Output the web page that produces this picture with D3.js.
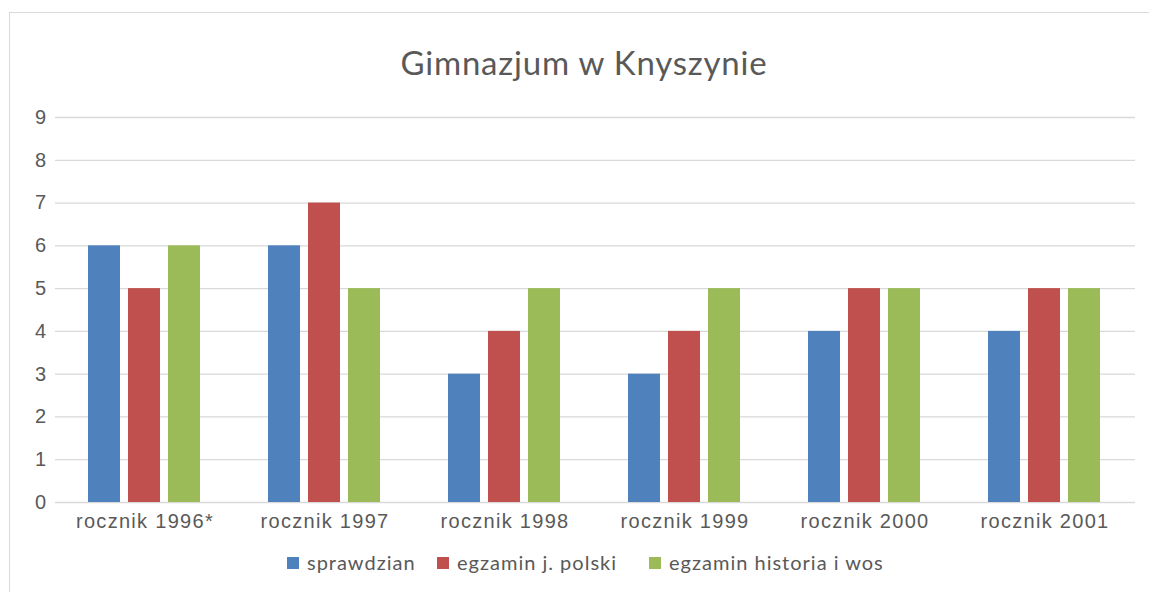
<!DOCTYPE html>
<html>
<head>
<meta charset="utf-8">
<script src="https://cdn.jsdelivr.net/npm/d3@7"></script>
<style>
  body { margin: 0; background: #fff; }
  svg { display: block; font-family: Lato, "Open Sans", sans-serif; }
</style>
</head>
<body>
<div id="chart"></div>
<script>
// data
const categories = ["rocznik 1996*", "rocznik 1997", "rocznik 1998", "rocznik 1999", "rocznik 2000", "rocznik 2001"];
const seriesNames = ["sprawdzian", "egzamin j. polski", "egzamin historia i wos"];
const sprawdzian = [6, 6, 3, 3, 4, 4];
const polski = [5, 7, 4, 4, 5, 5];
const historia = [6, 5, 5, 5, 5, 5];
const yTicks = [0, 1, 2, 3, 4, 5, 6, 7, 8, 9];
const colors = ["#4f81bd", "#c0504d", "#9bbb59"];

const W = 1149, H = 592;
const margin = { top: 117, right: 14, bottom: 90, left: 55 };
const width = W - margin.left - margin.right;
const height = H - margin.top - margin.bottom;

const svg = d3.select("#chart").append("svg")
    .attr("width", W)
    .attr("height", H);

// outer chart border
svg.append("rect")
    .attr("x", 9.5).attr("y", 12.5)
    .attr("width", W).attr("height", H)
    .attr("fill", "none")
    .attr("stroke", "#d9d9d9");

svg.append("text")
    .attr("x", 584).attr("y", 75)
    .attr("text-anchor", "middle")
    .style("font-size", "33px")
    .style("letter-spacing", "0.8px")
    .style("fill", "#595959")
    .text("Gimnazjum w Knyszynie");

const g = svg.append("g")
    .attr("transform", `translate(${margin.left},${margin.top})`);

const x = d3.scaleBand()
    .domain(categories)
    .range([0, width]);

const x1 = d3.scaleBand()
    .domain(d3.range(3))
    .range([33, 145])
    .paddingInner(0.2);

const y = d3.scaleLinear()
    .domain([0, 9])
    .range([height, 0]);

// gridlines
g.append("g")
    .call(d3.axisLeft(y).tickValues(yTicks).tickSize(-width).tickFormat(d3.format("d")))
    .call(a => a.select(".domain").remove())
    .call(a => a.selectAll("line").attr("stroke", "#d9d9d9").attr("stroke-width", 1.3))
    .call(a => a.selectAll("text").style("font-size", "20px").style("fill", "#595959").attr("x", -9));

const values = [sprawdzian, polski, historia];

categories.forEach((c, i) => {
    g.selectAll(".bar" + i)
        .data(values.map((s, k) => ({ k: k, v: s[i] })))
        .enter()
        .append("rect")
        .attr("x", d => x(c) + x1(d.k))
        .attr("y", d => y(d.v))
        .attr("width", x1.bandwidth())
        .attr("height", d => height - y(d.v))
        .attr("fill", d => colors[d.k]);
});

// x labels
g.append("g")
    .attr("transform", `translate(0,${height})`)
    .call(d3.axisBottom(x).tickSize(0).tickPadding(11))
    .call(a => a.select(".domain").remove())
    .call(a => a.selectAll("text")
        .style("font-size", "20px")
        .style("letter-spacing", "1.3px")
        .style("fill", "#595959")
        .attr("dy", "0.75em"));

// legend
const legendX = [287, 437, 649];
const legend = svg.append("g");
seriesNames.forEach((n, k) => {
    legend.append("rect")
        .attr("x", legendX[k]).attr("y", 557)
        .attr("width", 12).attr("height", 12)
        .attr("fill", colors[k]);
    legend.append("text")
        .attr("x", legendX[k] + 20).attr("y", 570)
        .style("font-size", "20px")
        .style("letter-spacing", "1px")
        .style("fill", "#595959")
        .text(n);
});
</script>
</body>
</html>
